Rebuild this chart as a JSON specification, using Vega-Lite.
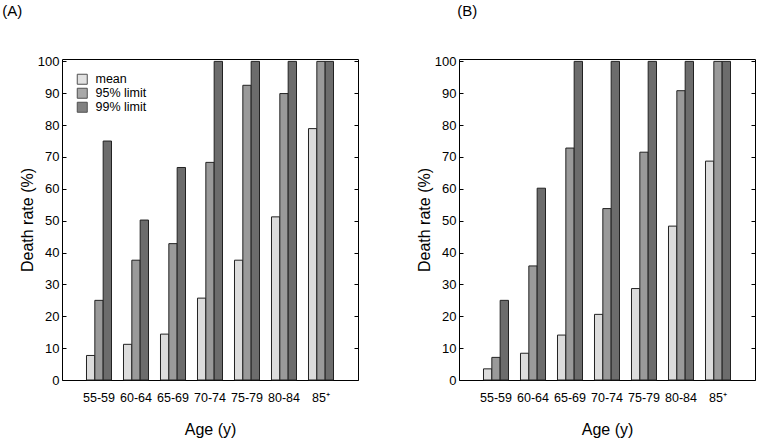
{
  "$schema": "https://vega.github.io/schema/vega-lite/v6.json",
  "padding": {"left": 1, "top": 3, "right": 0, "bottom": 0},
  "background": "white",
  "config": {
    "font": "Liberation Sans",
    "view": {"stroke": "#000", "strokeWidth": 1},
    "axis": {"labelColor": "#000", "titleColor": "#000", "tickColor": "#000", "grid": false, "labelFont": "Liberation Sans", "titleFont": "Liberation Sans", "titleFontWeight": "normal"},
    "legend": {"labelFont": "Liberation Sans", "labelColor": "#000"}
  },
  "datasets": {
    "a": [
      {"age": "55-59", "series": "mean", "rate": 7.7},
      {"age": "55-59", "series": "95% limit", "rate": 25.0},
      {"age": "55-59", "series": "99% limit", "rate": 75.0},
      {"age": "60-64", "series": "mean", "rate": 11.2},
      {"age": "60-64", "series": "95% limit", "rate": 37.6},
      {"age": "60-64", "series": "99% limit", "rate": 50.2},
      {"age": "65-69", "series": "mean", "rate": 14.4},
      {"age": "65-69", "series": "95% limit", "rate": 42.8},
      {"age": "65-69", "series": "99% limit", "rate": 66.7},
      {"age": "70-74", "series": "mean", "rate": 25.7},
      {"age": "70-74", "series": "95% limit", "rate": 68.3},
      {"age": "70-74", "series": "99% limit", "rate": 100},
      {"age": "75-79", "series": "mean", "rate": 37.6},
      {"age": "75-79", "series": "95% limit", "rate": 92.5},
      {"age": "75-79", "series": "99% limit", "rate": 100},
      {"age": "80-84", "series": "mean", "rate": 51.2},
      {"age": "80-84", "series": "95% limit", "rate": 89.9},
      {"age": "80-84", "series": "99% limit", "rate": 100},
      {"age": "85⁺", "series": "mean", "rate": 78.9},
      {"age": "85⁺", "series": "95% limit", "rate": 100},
      {"age": "85⁺", "series": "99% limit", "rate": 100}
    ],
    "b": [
      {"age": "55-59", "series": "mean", "rate": 3.5},
      {"age": "55-59", "series": "95% limit", "rate": 7.1},
      {"age": "55-59", "series": "99% limit", "rate": 25.0},
      {"age": "60-64", "series": "mean", "rate": 8.4},
      {"age": "60-64", "series": "95% limit", "rate": 35.8},
      {"age": "60-64", "series": "99% limit", "rate": 60.2},
      {"age": "65-69", "series": "mean", "rate": 14.1},
      {"age": "65-69", "series": "95% limit", "rate": 72.8},
      {"age": "65-69", "series": "99% limit", "rate": 100},
      {"age": "70-74", "series": "mean", "rate": 20.6},
      {"age": "70-74", "series": "95% limit", "rate": 53.8},
      {"age": "70-74", "series": "99% limit", "rate": 100},
      {"age": "75-79", "series": "mean", "rate": 28.7},
      {"age": "75-79", "series": "95% limit", "rate": 71.5},
      {"age": "75-79", "series": "99% limit", "rate": 100},
      {"age": "80-84", "series": "mean", "rate": 48.3},
      {"age": "80-84", "series": "95% limit", "rate": 90.8},
      {"age": "80-84", "series": "99% limit", "rate": 100},
      {"age": "85⁺", "series": "mean", "rate": 68.7},
      {"age": "85⁺", "series": "95% limit", "rate": 100},
      {"age": "85⁺", "series": "99% limit", "rate": 100}
    ]
  },
  "spacing": 56,
  "hconcat": [
    {
      "title": {"text": "(A)", "anchor": "start", "frame": "bounds", "fontSize": 15, "fontWeight": "normal", "font": "Liberation Sans", "color": "#000", "offset": 36, "dx": -17},
      "width": 296,
      "height": 321,
      "data": {"name": "a"},
      "layer": [
        {
          "mark": {"type": "bar", "stroke": "#222", "strokeWidth": 1},
          "encoding": {
            "x": {"field": "age", "type": "nominal", "sort": ["55-59", "60-64", "65-69", "70-74", "75-79", "80-84", "85⁺"], "scale": {"paddingInner": 0.324, "paddingOuter": 0.662}, "axis": {"title": "Age (y)", "labelAngle": 0, "ticks": false, "domain": false, "labelPadding": 11, "labelFontSize": 12.5, "titleFontSize": 16, "titlePadding": 18}},
            "xOffset": {"field": "series", "sort": ["mean", "95% limit", "99% limit"], "scale": {"paddingInner": 0, "paddingOuter": 0}},
            "y": {"field": "rate", "type": "quantitative", "scale": {"domain": [0, 100.75], "nice": false}, "axis": {"title": "Death rate (%)", "values": [0, 10, 20, 30, 40, 50, 60, 70, 80, 90, 100], "tickSize": -4, "domain": false, "labelPadding": 7, "labelFontSize": 13, "titleFontSize": 16, "titlePadding": 2}},
            "color": {"field": "series", "type": "nominal", "sort": ["mean", "95% limit", "99% limit"], "scale": {"domain": ["mean", "95% limit", "99% limit"], "range": ["#dcdcdc", "#9a9a9a", "#6c6c6c"]}, "legend": {"title": null, "orient": "top-left", "offset": 14, "padding": 0, "symbolType": "square", "symbolSize": 100, "symbolStrokeColor": "#333", "symbolStrokeWidth": 1, "symbolOpacity": 0.85, "labelFontSize": 12.5, "labelOffset": 7, "rowPadding": -1}}
          }
        },
        {
          "mark": {"type": "rule", "opacity": 0},
          "encoding": {
            "y": {"field": "rate", "type": "quantitative", "axis": {"orient": "right", "labels": false, "title": null, "domain": false, "tickSize": -4, "values": [0, 10, 20, 30, 40, 50, 60, 70, 80, 90, 100]}}
          }
        }
      ],
      "resolve": {"axis": {"y": "independent"}}
    },
    {
      "title": {"text": "(B)", "anchor": "start", "frame": "bounds", "fontSize": 15, "fontWeight": "normal", "font": "Liberation Sans", "color": "#000", "offset": 36, "dx": 41},
      "width": 296,
      "height": 321,
      "data": {"name": "b"},
      "layer": [
        {
          "mark": {"type": "bar", "stroke": "#222", "strokeWidth": 1},
          "encoding": {
            "x": {"field": "age", "type": "nominal", "sort": ["55-59", "60-64", "65-69", "70-74", "75-79", "80-84", "85⁺"], "scale": {"paddingInner": 0.324, "paddingOuter": 0.662}, "axis": {"title": "Age (y)", "labelAngle": 0, "ticks": false, "domain": false, "labelPadding": 11, "labelFontSize": 12.5, "titleFontSize": 16, "titlePadding": 18}},
            "xOffset": {"field": "series", "sort": ["mean", "95% limit", "99% limit"], "scale": {"paddingInner": 0, "paddingOuter": 0}},
            "y": {"field": "rate", "type": "quantitative", "scale": {"domain": [0, 100.75], "nice": false}, "axis": {"title": "Death rate (%)", "values": [0, 10, 20, 30, 40, 50, 60, 70, 80, 90, 100], "tickSize": -4, "domain": false, "labelPadding": 7, "labelFontSize": 13, "titleFontSize": 16, "titlePadding": 2}},
            "color": {"field": "series", "type": "nominal", "sort": ["mean", "95% limit", "99% limit"], "scale": {"domain": ["mean", "95% limit", "99% limit"], "range": ["#dcdcdc", "#9a9a9a", "#6c6c6c"]}, "legend": {"title": null, "orient": "top-left", "offset": 14, "padding": 0, "symbolType": "square", "symbolSize": 100, "symbolStrokeColor": "#333", "symbolStrokeWidth": 1, "symbolOpacity": 0.85, "labelFontSize": 12.5, "labelOffset": 7, "rowPadding": -1}}
          }
        },
        {
          "mark": {"type": "rule", "opacity": 0},
          "encoding": {
            "y": {"field": "rate", "type": "quantitative", "axis": {"orient": "right", "labels": false, "title": null, "domain": false, "tickSize": -4, "values": [0, 10, 20, 30, 40, 50, 60, 70, 80, 90, 100]}}
          }
        }
      ],
      "resolve": {"axis": {"y": "independent"}}
    }
  ]
}
